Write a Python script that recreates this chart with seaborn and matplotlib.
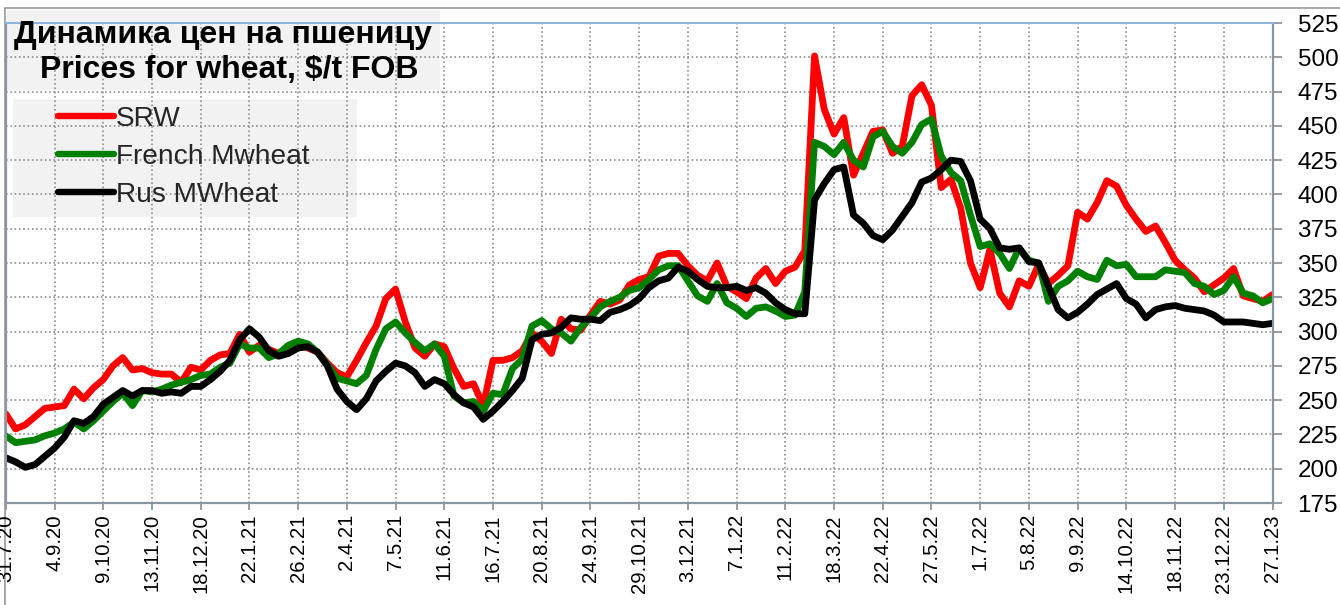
import numpy as np
import pandas as pd
import matplotlib
matplotlib.use("Agg")
import matplotlib.pyplot as plt
import seaborn as sns
from matplotlib.patches import Rectangle
from matplotlib.lines import Line2D

# ---------------- data ----------------
tick_labels = ["31.7.20", "4.9.20", "9.10.20", "13.11.20", "18.12.20", "22.1.21",
               "26.2.21", "2.4.21", "7.5.21", "11.6.21", "16.7.21", "20.8.21",
               "24.9.21", "29.10.21", "3.12.21", "7.1.22", "11.2.22", "18.3.22",
               "22.4.22", "27.5.22", "1.7.22", "5.8.22", "9.9.22", "14.10.22",
               "18.11.22", "23.12.22", "27.1.23"]

srw = [240, 229, 232, 238, 244, 245, 246, 258, 251, 259,
       265, 275, 281, 272, 273, 270, 269, 269, 263, 274,
       272, 279, 283, 284, 298, 285, 290, 287, 284, 287,
       291, 288, 285, 277, 270, 267, 279, 292, 304, 324,
       331, 307, 288, 282, 291, 289, 273, 260, 262, 246,
       279, 279, 281, 286, 299, 293, 284, 309, 302, 301,
       312, 322, 320, 323, 334, 338, 340, 355, 357, 357,
       348, 341, 337, 350, 333, 329, 324, 339, 346, 335,
       344, 347, 359, 501, 462, 444, 456, 414, 430, 446,
       447, 430, 435, 472, 480, 465, 405, 411, 390, 350,
       332, 360, 328, 318, 337, 333, 349, 335, 341, 348,
       387, 382, 394, 410, 406, 392, 382, 373, 377, 365,
       352, 345, 339, 329, 334, 339, 346, 326, 324, 322,
       327]

french = [224, 219, 220, 221, 224, 226, 229, 234, 229, 235,
          242, 249, 255, 246, 257, 256, 258, 261, 263, 265,
          268, 269, 274, 277, 291, 288, 288, 281, 284, 290,
          293, 291, 285, 276, 266, 264, 262, 268, 287, 302,
          307, 299, 292, 286, 291, 282, 253, 248, 249, 242,
          255, 254, 273, 280, 304, 308, 302, 299, 293, 303,
          310, 318, 322, 325, 330, 332, 338, 345, 348, 348,
          337, 326, 322, 335, 321, 317, 311, 317, 318, 315,
          311, 312, 329, 438, 435, 429, 438, 425, 420, 442,
          446, 435, 430, 438, 451, 455, 428, 416, 410, 385,
          362, 364, 357, 346, 361, 352, 350, 322, 333, 337,
          344, 340, 338, 352, 348, 349, 340, 340, 340, 345,
          344, 343, 335, 333, 327, 330, 340, 328, 326, 321,
          324]

rus = [208, 205, 201, 203, 209, 215, 223, 235, 233, 238,
       247, 252, 257, 253, 257, 257, 255, 256, 255, 260,
       260, 265, 271, 279, 294, 302, 296, 286, 282, 284,
       288, 289, 285, 275, 258, 249, 243, 251, 264, 271,
       277, 275, 270, 260, 265, 262, 254, 248, 245, 236,
       242, 249, 257, 266, 294, 298, 299, 303, 310, 309,
       309, 308, 314, 316, 319, 324, 332, 337, 339, 347,
       344, 338, 333, 332, 332, 333, 330, 332, 328, 321,
       316, 313, 313, 396, 408, 418, 420, 385, 379, 370,
       367, 374, 384, 394, 409, 412, 418, 425, 424, 410,
       382, 375, 361, 360, 361, 351, 350, 333, 316, 310,
       314, 320, 327, 331, 335, 324, 320, 310, 316, 318,
       319, 317, 316, 315, 312, 307, 307, 307, 306, 305,
       306]

series_names = ["SRW", "French Mwheat", "Rus MWheat"]
series_colors = ["#FF0000", "#008000", "#000000"]

weeks = list(range(len(srw)))
wide = pd.DataFrame({"week": weeks, series_names[0]: srw,
                     series_names[1]: french, series_names[2]: rus})
long = wide.melt(id_vars="week", var_name="series", value_name="price")

# ---------------- figure ----------------
sns.set_theme(style="white")
plt.rcParams['font.family'] = ['Liberation Sans', 'DejaVu Sans']

W, H = 1340, 605
fig = plt.figure(figsize=(W / 100, H / 100), dpi=100)
fig.patch.set_facecolor("white")

x0, x1, ytop, ybot = 5.8, 1272.5, 23.0, 503.0
ax = fig.add_axes([x0 / W, 1 - ybot / H, (x1 - x0) / W, (ybot - ytop) / H])
ax.patch.set_alpha(0)

sns.lineplot(data=long, x="week", y="price", hue="series",
             hue_order=series_names, palette=dict(zip(series_names, series_colors)),
             linewidth=4.9, ax=ax, legend=False, sort=False)
for ln in ax.lines:
    ln.set_solid_joinstyle("round")
    ln.set_solid_capstyle("round")

ax.set_xlim(0, len(srw) - 1)
ax.set_ylim(175, 525)
ax.set_xticks(range(0, len(srw), 5))
ax.set_xticklabels(tick_labels, rotation=90, fontsize=14.6)
ax.set_yticks(range(175, 526, 25))
ax.yaxis.tick_right()
ax.set_xlabel("")
ax.set_ylabel("")

ax.grid(True, color="#858585", linestyle=(0, (1, 1.7)), linewidth=1.15)
ax.set_axisbelow(True)

ax.tick_params(axis="x", direction="out", length=5, width=1.3, color="#8C96A0",
               pad=3, labelcolor="black", bottom=True)
ax.tick_params(axis="y", direction="out", length=6.5, width=1.3, color="#8C96A0",
               pad=11.5, labelsize=17.5, labelcolor="black", right=True, left=False)

for side in ["left", "right", "bottom"]:
    ax.spines[side].set_visible(True)
    ax.spines[side].set_color("#8C96A0")
    ax.spines[side].set_linewidth(1.6)
ax.spines["top"].set_visible(True)
ax.spines["top"].set_color("#8EB4E3")
ax.spines["top"].set_linewidth(1.4)

# chart frame (top and left)
fig.add_artist(Line2D([5 / W, 1], [1 - 8 / H, 1 - 8 / H], transform=fig.transFigure,
                      color="#9A9A9A", linewidth=1.2, zorder=-2))
fig.add_artist(Line2D([5 / W, 5 / W], [0, 1 - 8 / H], transform=fig.transFigure,
                      color="#9A9A9A", linewidth=1.2, zorder=-2))

# light grey boxes behind title and legend
fig.add_artist(Rectangle((7 / W, 1 - 90 / H), (440 - 7) / W, (90 - 10) / H,
                         transform=fig.transFigure, facecolor="#F2F2F2",
                         edgecolor="none", zorder=-1))
fig.add_artist(Rectangle((13 / W, 1 - 217 / H), (357 - 13) / W, (217 - 99) / H,
                         transform=fig.transFigure, facecolor="#F2F2F2",
                         edgecolor="none", zorder=-1))

fig.text(223 / W, 1 - 35 / H, "Динамика цен на пшеницу", ha="center", va="center",
         fontsize=23, fontweight="bold", color="black", zorder=5)
fig.text(229 / W, 1 - 70 / H, "Prices for wheat, $/t FOB", ha="center", va="center",
         fontsize=23, fontweight="bold", color="black", zorder=5)

leg_handles = [Line2D([0], [0], color=c, linewidth=4.6, solid_capstyle="round")
               for c in series_colors]
fig.legend(leg_handles, series_names, loc="upper left",
           bbox_to_anchor=(58 / W, 1 - 106 / H), bbox_transform=fig.transFigure,
           frameon=False, fontsize=20.2, handlelength=2.0, handletextpad=0.06,
           labelspacing=0.42, borderpad=0, borderaxespad=0)

fig.savefig("out.png", dpi=100, facecolor="white")
